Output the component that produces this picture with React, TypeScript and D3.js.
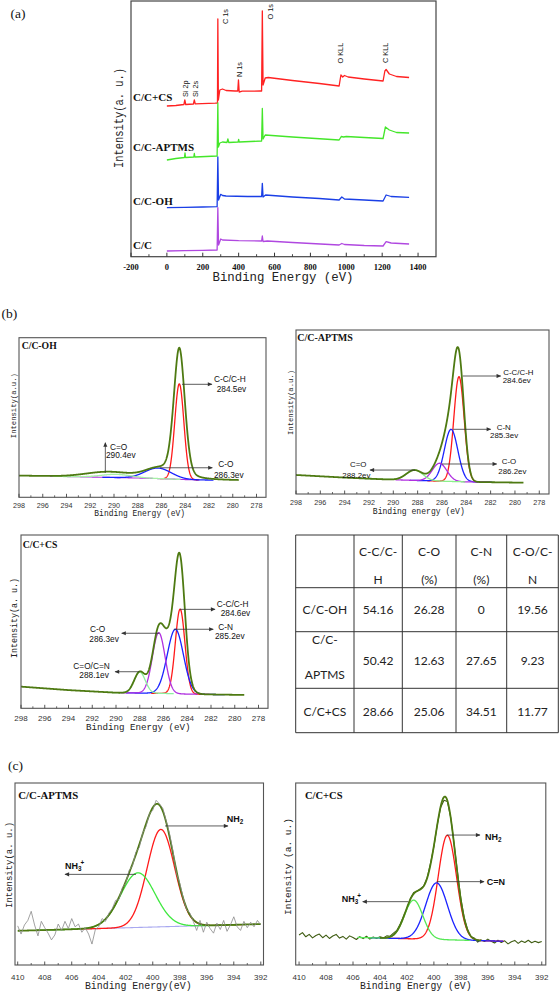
import React from "react";
import * as d3 from "d3";

type Pt = [number, number];
interface FitPeak { name: string; center: number; height: number; fwhm: number; lorentz?: number; }

// ================= (a) survey spectra : [binding energy eV, intensity a.u.] =================
const surveyTicks = [-200, 0, 200, 400, 600, 800, 1000, 1200, 1400];
const surveySamples = ["C/C+CS", "C/C-APTMS", "C/C-OH", "C/C"];
const surveyPeakNames = ["Si 2p", "Si 2s", "C 1s", "N 1s", "O 1s", "O KLL", "C KLL"];
const surveyCS: Pt[] = [
  [0, 150.7], [50, 151.2], [95, 152.2], [100, 156.7], [105, 152.2], [148, 152.7], [153, 156.7], [158, 152.9],
  [270, 153.5], [282, 153.7], [284, 237.7], [287, 156.7], [295, 166.7], [310, 167.7], [330, 166.2], [380, 165.7],
  [395, 165.7], [399, 176.7], [403, 164.7], [420, 165.5], [520, 165.7], [528, 165.7], [532, 245.7], [536, 171.7],
  [548, 178.7], [565, 179.2], [700, 176.2], [850, 173.2], [960, 170.7], [970, 181.7], [980, 179.7], [990, 181.2],
  [1010, 179.7], [1100, 177.7], [1205, 175.7], [1215, 185.7], [1222, 187.2], [1240, 182.7], [1280, 180.2], [1350, 179.2],
];
const surveyAPTMS: Pt[] = [
  [0, 96.7], [50, 98.2], [98, 99.2], [101, 103.7], [104, 99.2], [150, 99.7], [153, 103.2], [156, 99.7], [280, 100.7],
  [284, 153.7], [287, 109.7], [295, 113.7], [310, 114.7], [335, 114.2], [340, 117.7], [345, 114.2], [397, 114.7],
  [400, 117.2], [403, 114.7], [528, 115.7], [532, 148.2], [536, 117.7], [548, 121.7], [700, 119.7], [960, 116.7],
  [972, 120.2], [985, 119.7], [1000, 120.2], [1100, 119.2], [1205, 118.2], [1218, 129.7], [1240, 126.7], [1280, 124.2],
  [1350, 123.7],
];
const surveyOH: Pt[] = [
  [0, 49], [100, 49.4], [200, 49.7], [280, 50], [284, 99.7], [288, 56.7], [300, 62.4], [310, 61.2], [330, 60.7],
  [450, 60.2], [528, 60.2], [532, 73.4], [536, 59.7], [550, 61.7], [700, 59.7], [850, 58.2], [960, 56.7], [975, 59.7],
  [990, 57.7], [1100, 56.7], [1205, 55.7], [1222, 61.7], [1250, 60.2], [1350, 59.4],
];
const surveyCC: Pt[] = [
  [0, 5.7], [100, 6], [200, 6.4], [280, 6.7], [284, 49], [288, 11.7], [300, 17.7], [310, 16.7], [400, 16], [528, 15.7],
  [532, 20.7], [536, 15.2], [560, 15.7], [700, 14.2], [960, 11.7], [975, 13.2], [990, 12.2], [1100, 11.2], [1205, 10.7],
  [1222, 15], [1250, 13.7], [1350, 12.7],
];

// ================= (b) C 1s fits =================
const c1sTicks = [298, 296, 294, 292, 290, 288, 286, 284, 282, 280, 278];
const ohBackground: Pt[] = [[298, 13.6], [294, 13.0], [290, 12.4], [287, 11.9], [285, 11.4], [284, 11.1], [283, 10.9], [279.5, 10.6]];
const ohFitPeaks: FitPeak[] = [
  { name: "C-C/C-H", center: 284.5, height: 59.8, fwhm: 0.9 },
  { name: "C-O", center: 286.3, height: 6.6, fwhm: 2.6 },
  { name: "C=O", center: 289.8, height: 2.0, fwhm: 3.0 },
];
const ohEnvelopePeaks: FitPeak[] = [
  { name: "main", center: 284.5, height: 81, fwhm: 1.1, lorentz: 0.25 },
  { name: "C-O", center: 286.3, height: 5.4, fwhm: 2.6 },
  { name: "C=O", center: 290.4, height: 3.4, fwhm: 4.5 },
];
const aptmsBackground: Pt[] = [[298, 11.6], [294, 10.0], [290, 8.7], [287, 8.0], [284, 7.4], [279.3, 6.9]];
const aptmsFitPeaks: FitPeak[] = [
  { name: "C-C/C-H", center: 284.6, height: 64, fwhm: 1.0 },
  { name: "C-N", center: 285.25, height: 31.8, fwhm: 1.3 },
  { name: "C-O", center: 286.2, height: 10.9, fwhm: 1.4 },
  { name: "C=O", center: 288.25, height: 6.3, fwhm: 1.6 },
];
const csBackground: Pt[] = [[298, 12.5], [294, 10.5], [290, 9.0], [286, 8.6], [284, 8.2], [279.2, 7.7]];
const csFitPeaks: FitPeak[] = [
  { name: "C-C/C-H", center: 284.6, height: 48.9, fwhm: 0.95 },
  { name: "C-N", center: 285.0, height: 37.2, fwhm: 1.6 },
  { name: "C-O", center: 286.4, height: 35.0, fwhm: 1.25 },
  { name: "C=O/C=N", center: 288.0, height: 12.1, fwhm: 1.1 },
];

// table
const tableHeader = [["C-C/C-", "H"], ["C-O", "(%)"], ["C-N", "(%)"], ["C-O/C-", "N"]];
const tableSamples = [["C/C-OH"], ["C/C-", "APTMS"], ["C/C+CS"]];
const tableCC = [54.16, 50.42, 28.66];
const tableCO = [26.28, 12.63, 25.06];
const tableCN = [0, 27.65, 34.51];
const tableCON = [19.56, 9.23, 11.77];

// ================= (c) N 1s fits =================
const n1sTicks = [410, 408, 406, 404, 402, 400, 398, 396, 394, 392];
const n1sAptmsBackground: Pt[] = [[410, 18.8], [392, 22.5]];
const n1sAptmsPeaks: FitPeak[] = [
  { name: "NH2", center: 399.4, height: 53.5, fwhm: 2.4 },
  { name: "NH3+", center: 401.1, height: 30, fwhm: 3.0 },
];
const n1sAptmsRaw: Pt[] = [
  [410, 21.5], [409.75, 17.0], [409.5, 22.0], [409.25, 24.5], [409, 29.5], [408.75, 22.0], [408.5, 16.0], [408.25, 24.0],
  [408, 20.5], [407.75, 17.5], [407.5, 13.8], [407.25, 16.5], [407, 22.5], [406.75, 19.0], [406.5, 24.0], [406.25, 20.0],
  [406, 25.5], [405.75, 21.0], [405.5, 22.5], [405.25, 18.0], [405, 20.5], [404.75, 17.0], [404.5, 11.5], [404.25, 19.5],
  [404, 21.0], [403.75, 25.5], [403.5, 24.0], [403.25, 28.5], [403, 31.0], [402.75, 35.5], [402.5, 36.0], [402.25, 42.5],
  [402, 45.0], [401.75, 52.0], [401.5, 54.5], [401.25, 62.0], [401, 64.5], [400.75, 72.5], [400.5, 76.0], [400.25, 83.0],
  [400, 85.0], [399.75, 90.5], [399.5, 88.5], [399.25, 86.0], [399, 79.0], [398.75, 72.0], [398.5, 62.5], [398.25, 50.5],
  [398, 45.0], [397.75, 37.0], [397.5, 30.5], [397.25, 28.5], [397, 24.0], [396.75, 19.0], [396.5, 24.5], [396.25, 18.0],
  [396, 23.5], [395.75, 20.0], [395.5, 17.5], [395.25, 23.0], [395, 19.5], [394.75, 24.5], [394.5, 18.5], [394.25, 22.0],
  [394, 26.5], [393.75, 21.0], [393.5, 19.0], [393.25, 24.0], [393, 20.5], [392.75, 23.5], [392.5, 21.0], [392.25, 24.5],
  [392, 22.0],
];
const n1sCsBackground: Pt[] = [[410, 16], [392, 12.5]];
const n1sCsPeaks: FitPeak[] = [
  { name: "NH2", center: 399.0, height: 57.4, fwhm: 1.6 },
  { name: "C=N", center: 399.8, height: 31.1, fwhm: 1.9 },
  { name: "NH3+", center: 401.5, height: 21.3, fwhm: 1.6 },
];
const n1sCsRaw: Pt[] = [
  [410, 16.5], [409.75, 17.8], [409.5, 15.5], [409.25, 16.8], [409, 14.9], [408.75, 16.2], [408.5, 17.0], [408.25, 15.0],
  [408, 16.4], [407.75, 14.6], [407.5, 15.9], [407.25, 16.8], [407, 14.8], [406.75, 15.7], [406.5, 14.2], [406.25, 16.0],
  [406, 15.1], [405.75, 14.0], [405.5, 15.6], [405.25, 14.5], [405, 15.8], [404.75, 14.2], [404.5, 15.4], [404.25, 14.6],
  [404, 15.5], [403.75, 14.9], [403.5, 16.0], [403.25, 15.8], [403, 17.5], [402.75, 19.0], [402.5, 22.5], [402.25, 26.8],
  [402, 31.0], [401.75, 36.5], [401.5, 39.8], [401.25, 40.5], [401, 42.0], [400.75, 43.5], [400.5, 48.0], [400.25, 56.0],
  [400, 65.0], [399.75, 77.0], [399.5, 86.5], [399.25, 90.5], [399, 89.8], [398.75, 81.0], [398.5, 66.5], [398.25, 51.0],
  [398, 36.5], [397.75, 26.0], [397.5, 19.5], [397.25, 15.5], [397, 14.8], [396.75, 12.6], [396.5, 13.8], [396.25, 12.9],
  [396, 14.2], [395.75, 13.0], [395.5, 12.1], [395.25, 13.6], [395, 12.4], [394.75, 13.3], [394.5, 11.6], [394.25, 12.8],
  [394, 13.5], [393.75, 11.9], [393.5, 13.2], [393.25, 12.4], [393, 13.6], [392.75, 12.2], [392.5, 13.0], [392.25, 12.3],
  [392, 12.9],
];

// ================= styles / layout =================
const OLIVE = "#4e7a12";
const RED = "#ff1a1a";
const BLUE = "#1a22ff";
const PURPLE = "#b030e0";
const GREEN = "#55e855";
const MONO = "Liberation Mono, Courier New, monospace";
const SERIF = "Liberation Serif, Times New Roman, serif";
const SANS = "Liberation Sans, Arial, sans-serif";

function profile(e: number, p: FitPeak) {
  const t = (e - p.center) / p.fwhm;
  const eta = p.lorentz ?? 0;
  return p.height * ((1 - eta) * Math.exp(-4 * Math.LN2 * t * t) + eta / (1 + 4 * t * t));
}

interface Part { t: string; k?: "sub" | "sup" }
interface Label { parts: Part[]; x: number; y: number }
interface Arrow { from: Pt; to: Pt }
interface Layout {
  l: number; r: number; t: number; b: number;
  xDomain: [number, number];
  tickLabelY: number; tickSize: number;
  title: string; titleX: number; titleY: number; titleSize: number;
  yLabel: string; yLabelX: number; yLabelY: number; yLabelLen: number; yLabelSize: number;
  xLabel: string; xLabelX: number; xLabelY: number; xLabelLen: number; xLabelSize: number;
  span: number;
  envRange: [number, number];
  bgLine?: { from: number; to: number; color: string };
  raw?: { color: string; width: number; onTop: boolean };
  labelSize: number; labelBold: boolean;
}

const lab = (t: string, x: number, y: number): Label => ({ parts: [{ t }], x, y });
const nh2 = (x: number, y: number): Label => ({ parts: [{ t: "NH" }, { t: "2", k: "sub" }], x, y });
const nh3 = (x: number, y: number): Label => ({ parts: [{ t: "NH" }, { t: "3", k: "sub" }, { t: "+", k: "sup" }], x, y });

function Spectrum(props: {
  L: Layout; ticks: number[]; bg: Pt[]; peaks: FitPeak[]; colors: string[]; env: FitPeak[];
  raw?: Pt[]; arrows: Arrow[]; labels: Label[]; id: string;
}) {
  const { L, ticks, bg, peaks, colors, env, raw, arrows, labels, id } = props;
  const x = d3.scaleLinear().domain(L.xDomain).range([L.l, L.r]);
  const y = d3.scaleLinear().domain([0, 100]).range([L.b, L.t]);
  const bgS = d3.scaleLinear().domain(bg.map((d) => d[0])).range(bg.map((d) => d[1])).clamp(true);
  const line = d3.line<Pt>().x((d) => x(d[0])).y((d) => y(d[1]));
  const lo = Math.min(...L.xDomain), hi = Math.max(...L.xDomain);
  const minor: number[] = [];
  for (let i = 0; i < ticks.length - 1; i++) minor.push((ticks[i] + ticks[i + 1]) / 2);
  const compPaths = peaks.map((p) => {
    const a = Math.max(lo, p.center - L.span * p.fwhm), b = Math.min(hi, p.center + L.span * p.fwhm);
    const pts: Pt[] = d3.range(a, b, 0.02).map((e) => [e, bgS(e) + profile(e, p)] as Pt);
    return line(pts) || "";
  });
  const e0 = Math.min(...L.envRange), e1 = Math.max(...L.envRange);
  const envPts: Pt[] = d3.range(e0, e1 + 0.001, 0.02).map((e) => [e, bgS(e) + d3.sum(env, (p) => profile(e, p))] as Pt);
  const rawPath = raw ? line(raw) || "" : "";
  const rawEl = raw && L.raw ? (
    <path d={rawPath} fill="none" stroke={L.raw.color} strokeWidth={L.raw.width} strokeLinejoin="round" />
  ) : null;
  return (
    <g>
      <defs>
        <clipPath id={id}>
          <rect x={L.l} y={L.t} width={L.r - L.l} height={L.b - L.t} />
        </clipPath>
      </defs>
      <g clipPath={`url(#${id})`}>
        {L.bgLine && (
          <path
            d={line(d3.range(Math.min(L.bgLine.from, L.bgLine.to), Math.max(L.bgLine.from, L.bgLine.to), 0.1).map((e) => [e, bgS(e)] as Pt)) || ""}
            fill="none" stroke={L.bgLine.color} strokeWidth={1.1}
          />
        )}
        {L.raw && !L.raw.onTop && rawEl}
        {compPaths.map((d, i) => (
          <path key={i} d={d} fill="none" stroke={colors[i]} strokeWidth={1.3} />
        ))}
        <path d={line(envPts) || ""} fill="none" stroke={OLIVE} strokeWidth={1.8} />
        {L.raw && L.raw.onTop && rawEl}
      </g>
      <rect x={L.l} y={L.t} width={L.r - L.l} height={L.b - L.t} fill="none" stroke="#555" strokeWidth={1.1} />
      {ticks.map((t) => (
        <g key={"t" + t}>
          <line x1={x(t)} x2={x(t)} y1={L.b} y2={L.b - 3.5} stroke="#444" strokeWidth={0.9} />
          <text x={x(t)} y={L.tickLabelY} fontSize={L.tickSize} textAnchor="middle" fill="#333" fontFamily={SANS}>{t}</text>
        </g>
      ))}
      {minor.map((t) => (
        <line key={"m" + t} x1={x(t)} x2={x(t)} y1={L.b} y2={L.b - 2} stroke="#444" strokeWidth={0.8} />
      ))}
      <text x={L.titleX} y={L.titleY} fontFamily={SERIF} fontWeight="bold" fontSize={L.titleSize} fill="#111">{L.title}</text>
      <text
        x={L.yLabelX} y={L.yLabelY} transform={`rotate(-90 ${L.yLabelX} ${L.yLabelY})`} textAnchor="middle"
        fontFamily={MONO} fontSize={L.yLabelSize} fill="#222" textLength={L.yLabelLen} lengthAdjust="spacingAndGlyphs"
      >{L.yLabel}</text>
      <text
        x={L.xLabelX} y={L.xLabelY} textAnchor="middle" fontFamily={MONO} fontSize={L.xLabelSize} fill="#222"
        textLength={L.xLabelLen} lengthAdjust="spacingAndGlyphs"
      >{L.xLabel}</text>
      {arrows.map((a, i) => (
        <line key={"a" + i} x1={x(a.from[0])} y1={y(a.from[1])} x2={x(a.to[0])} y2={y(a.to[1])}
          stroke="#333" strokeWidth={0.8} markerEnd="url(#arrowHead)" />
      ))}
      {labels.map((lb, i) => (
        <text key={"l" + i} x={lb.x} y={lb.y} fontFamily={SANS} fontSize={L.labelSize} fill="#111"
          fontWeight={L.labelBold ? "bold" : "normal"}>
          {lb.parts.map((p, j) => {
            if (p.k === "sub") return <tspan key={j} dy={2.5} fontSize={L.labelSize * 0.7}>{p.t}</tspan>;
            if (p.k === "sup") return <tspan key={j} dy={-6} dx={-1} fontSize={L.labelSize * 0.7}>{p.t}</tspan>;
            return <tspan key={j}>{p.t}</tspan>;
          })}
        </text>
      ))}
    </g>
  );
}

const surveyFrame = { l: 131, r: 436, t: 1, b: 256.7 };
const surveyDomain: [number, number] = [-200, 1500];
const surveyColors = ["#ff2222", "#44e62a", "#1a3fe6", "#b048e0"];
const surveySampleLabelY = [101, 150.5, 205, 248.5];
const surveyPeakLabelPos: Pt[] = [[187.5, 97], [197.5, 97], [228.2, 24], [241.8, 77], [272.5, 19.5], [342.5, 63.5], [387.5, 63]];

function Survey() {
  const f = surveyFrame;
  const x = d3.scaleLinear().domain(surveyDomain).range([f.l, f.r]);
  const y = d3.scaleLinear().domain([0, 255.7]).range([f.b, f.t]);
  const line = d3.line<Pt>().x((d) => x(d[0])).y((d) => y(d[1]));
  const series = [surveyCS, surveyAPTMS, surveyOH, surveyCC];
  const minor: number[] = [];
  for (let i = 0; i < surveyTicks.length - 1; i++) minor.push((surveyTicks[i] + surveyTicks[i + 1]) / 2);
  return (
    <g>
      {series.map((s, i) => (
        <path key={i} d={line(s) || ""} fill="none" stroke={surveyColors[i]} strokeWidth={1.3} strokeLinejoin="round" />
      ))}
      <rect x={f.l} y={f.t} width={f.r - f.l} height={f.b - f.t} fill="none" stroke="#444" strokeWidth={1.2} />
      {surveyTicks.map((t) => (
        <g key={t}>
          <line x1={x(t)} x2={x(t)} y1={f.b} y2={f.b - 4} stroke="#333" strokeWidth={1} />
          <text x={x(t)} y={269.5} textAnchor="middle" fontFamily={SERIF} fontWeight="bold" fontSize={8.5} fill="#111">{t}</text>
        </g>
      ))}
      {minor.map((t) => (
        <line key={"m" + t} x1={x(t)} x2={x(t)} y1={f.b} y2={f.b - 2.5} stroke="#333" strokeWidth={0.9} />
      ))}
      {surveySamples.map((s, i) => (
        <text key={s} x={133} y={surveySampleLabelY[i]} fontFamily={SERIF} fontWeight="bold" fontSize={11} fill="#111">{s}</text>
      ))}
      {surveyPeakNames.map((n, i) => (
        <text key={n} x={surveyPeakLabelPos[i][0]} y={surveyPeakLabelPos[i][1]}
          transform={`rotate(-90 ${surveyPeakLabelPos[i][0]} ${surveyPeakLabelPos[i][1]})`}
          fontFamily={SANS} fontSize={7.3} fill="#111">{n}</text>
      ))}
      <text x={122.5} y={118} transform="rotate(-90 122.5 118)" textAnchor="middle" fontFamily={MONO} fontSize={12}
        fill="#222" textLength={100} lengthAdjust="spacingAndGlyphs">Intensity(a. u.)</text>
      <text x={283} y={281} textAnchor="middle" fontFamily={MONO} fontSize={12.5} fill="#222" textLength={141}
        lengthAdjust="spacingAndGlyphs">Binding Energy (eV)</text>
    </g>
  );
}

const layoutOH: Layout = {
  l: 19, r: 266, t: 337.7, b: 497.3, xDomain: [298, 277.2], tickLabelY: 507.5, tickSize: 7.2,
  title: "C/C-OH", titleX: 21.7, titleY: 348.5, titleSize: 9.7,
  yLabel: "Intensity(a.u.)", yLabelX: 16, yLabelY: 405.7, yLabelLen: 65, yLabelSize: 8,
  xLabel: "Binding Energy (eV)", xLabelX: 139.7, xLabelY: 515.5, xLabelLen: 90.7, xLabelSize: 8.5,
  span: 1.8, envRange: [298, 279.5], bgLine: { from: 295.5, to: 282.8, color: PURPLE },
  labelSize: 8.3, labelBold: false,
};
const layoutAPTMS: Layout = {
  l: 296, r: 549, t: 330, b: 494, xDomain: [298, 277.2], tickLabelY: 505.3, tickSize: 7.2,
  title: "C/C-APTMS", titleX: 297.3, titleY: 341, titleSize: 10,
  yLabel: "Intensity(a.u.)", yLabelX: 292.7, yLabelY: 402.5, yLabelLen: 65, yLabelSize: 8,
  xLabel: "Binding energy (eV)", xLabelX: 418.8, xLabelY: 513.5, xLabelLen: 92, xLabelSize: 8.5,
  span: 2.6, envRange: [298, 279.3], labelSize: 7.9, labelBold: false,
};
const layoutCS: Layout = {
  l: 21, r: 268, t: 535, b: 708.3, xDomain: [298, 277.2], tickLabelY: 721, tickSize: 8,
  title: "C/C+CS", titleX: 22.7, titleY: 547.5, titleSize: 9.7,
  yLabel: "Intensity(a. u.)", yLabelX: 16.5, yLabelY: 618, yLabelLen: 80, yLabelSize: 9,
  xLabel: "Binding Energy (eV)", xLabelX: 138.3, xLabelY: 730, xLabelLen: 104.7, xLabelSize: 9.5,
  span: 2.6, envRange: [298, 279.2], labelSize: 8.3, labelBold: false,
};
const layoutN1sAPTMS: Layout = {
  l: 15, r: 263.5, t: 783, b: 965, xDomain: [410.2, 391.8], tickLabelY: 979.5, tickSize: 8,
  title: "C/C-APTMS", titleX: 18.3, titleY: 798.5, titleSize: 10.8,
  yLabel: "Intensity(a. u.)", yLabelX: 11.8, yLabelY: 865, yLabelLen: 86, yLabelSize: 9.5,
  xLabel: "Binding Energy(eV)", xLabelX: 138.3, xLabelY: 989, xLabelLen: 106.7, xLabelSize: 10,
  span: 2.5, envRange: [410, 392], bgLine: { from: 405, to: 395, color: "#a8a8f0" },
  raw: { color: "#8a8a8a", width: 0.8, onTop: true }, labelSize: 9, labelBold: true,
};
const layoutN1sCS: Layout = {
  l: 295.7, r: 545.8, t: 783, b: 965, xDomain: [410.25, 391.7], tickLabelY: 979.5, tickSize: 8,
  title: "C/C+CS", titleX: 305, titleY: 798.5, titleSize: 10.5,
  yLabel: "Intensity (a. u.)", yLabelX: 290.7, yLabelY: 866.5, yLabelLen: 97, yLabelSize: 9.5,
  xLabel: "Binding Energy (eV)", xLabelX: 415.8, xLabelY: 989, xLabelLen: 111.7, xLabelSize: 10,
  span: 2.6, envRange: [404, 396.5], raw: { color: "#3f5c12", width: 1.1, onTop: false },
  labelSize: 9, labelBold: true,
};

const tableRowLines = [535, 587.7, 631.7, 688.3, 732.7];
const tableColLines = [295.7, 354, 402.3, 456, 506.7, 558.3];
const headerLineY = [556, 583.5];
const rowTextY = [614.3, 665, 716];
const twoLineY = [643.5, 679.3];

function Table() {
  const cols = [tableCC, tableCO, tableCN, tableCON];
  const cx = (i: number) => (tableColLines[i] + tableColLines[i + 1]) / 2;
  const fmt = (v: number) => (v === 0 ? "0" : v.toFixed(2));
  return (
    <g fontFamily="Lato, Liberation Sans, sans-serif" fontSize={12} fill="#222">
      {tableRowLines.map((yy, i) => (
        <line key={"r" + i} x1={tableColLines[0]} x2={tableColLines[5]} y1={yy} y2={yy} stroke="#333" strokeWidth={1} />
      ))}
      {tableColLines.map((xx, i) => (
        <line key={"c" + i} x1={xx} x2={xx} y1={tableRowLines[0]} y2={tableRowLines[4]} stroke="#333" strokeWidth={1} />
      ))}
      {tableHeader.map((h, i) => h.map((t, j) => (
        <text key={`h${i}${j}`} x={cx(i + 1)} y={headerLineY[j]} textAnchor="middle">{t}</text>
      )))}
      {tableSamples.map((s, r) => s.map((t, j) => (
        <text key={`s${r}${j}`} x={cx(0)} y={s.length > 1 ? twoLineY[j] : rowTextY[r]} textAnchor="middle">{t}</text>
      )))}
      {cols.map((c, i) => c.map((v, r) => (
        <text key={`v${i}${r}`} x={cx(i + 1)} y={rowTextY[r]} textAnchor="middle">{fmt(v)}</text>
      )))}
    </g>
  );
}

export default function App() {
  return (
    <svg width={559} height={992} viewBox="0 0 559 992"
      style={{ position: "absolute", left: 0, top: 0, background: "#fff" }}>
      <defs>
        <marker id="arrowHead" viewBox="0 0 10 10" refX="9" refY="5" markerWidth="6" markerHeight="4.6"
          markerUnits="userSpaceOnUse" orient="auto">
          <path d="M0,0.5 L10,5 L0,9.5 z" fill="#333" />
        </marker>
      </defs>
      <rect x={0} y={0} width={559} height={992} fill="#fff" />
      <text x={10.5} y={18} fontFamily={SERIF} fontSize={13.5} fill="#111">(a)</text>
      <Survey />
      <text x={1.5} y={317.5} fontFamily={SERIF} fontSize={13.5} fill="#111">(b)</text>
      <Spectrum id="cpOH" L={layoutOH} ticks={c1sTicks} bg={ohBackground} peaks={ohFitPeaks}
        colors={[RED, BLUE, "#a6f0a6"]} env={ohEnvelopePeaks}
        arrows={[
          { from: [284.27, 70.8], to: [281.75, 70.8] },
          { from: [290.73, 15.4], to: [290.73, 34.2] },
          { from: [286.13, 18.5], to: [281.72, 18.5] },
        ]}
        labels={[lab("C-C/C-H", 214, 382.3), lab("284.5ev", 216.7, 392.3), lab("C=O", 110, 449.7),
          lab("290.4ev", 106, 458), lab("C-O", 218.3, 467), lab("286.3ev", 214, 478)]}
      />
      <Spectrum id="cpAPTMS" L={layoutAPTMS} ticks={c1sTicks} bg={aptmsBackground} peaks={aptmsFitPeaks}
        colors={[RED, BLUE, PURPLE, "#8cf08c"]} env={aptmsFitPeaks}
        arrows={[
          { from: [284.29, 71.95], to: [281.17, 71.95] },
          { from: [285.07, 39.45], to: [281.99, 39.45] },
          { from: [286.02, 18.3], to: [281.5, 18.3] },
          { from: [288.22, 14.6], to: [291.92, 14.6] },
        ]}
        labels={[lab("C-C/C-H", 503.3, 374.7), lab("284.6ev", 502.7, 383), lab("C-N", 496.7, 429.7),
          lab("285.3ev", 490, 438), lab("C-O", 501.7, 464.3), lab("286.2ev", 498.3, 474.3), lab("C=O", 350, 466.5),
          lab("288.2ev", 342.3, 478)]}
      />
      <Spectrum id="cpCS" L={layoutCS} ticks={c1sTicks} bg={csBackground} peaks={csFitPeaks}
        colors={[RED, BLUE, PURPLE, "#8cf0a0"]} env={csFitPeaks}
        arrows={[
          { from: [284.61, 57.1], to: [281.66, 57.1] },
          { from: [285.12, 45.6], to: [281.81, 45.6] },
          { from: [286.35, 43.3], to: [289.52, 43.3] },
          { from: [288.04, 21.1], to: [290.08, 21.1] },
        ]}
        labels={[lab("C-C/C-H", 216.7, 607), lab("284.6ev", 220.7, 616.3), lab("C-N", 218.3, 630.3),
          lab("285.2ev", 215, 639), lab("C-O", 90, 632.3), lab("286.3ev", 89.3, 642), lab("C=O/C=N", 73.3, 668.7),
          lab("288.1ev", 79.3, 678)]}
      />
      <Table />
      <text x={8} y={769.5} fontFamily={SERIF} fontSize={13.5} fill="#111">(c)</text>
      <Spectrum id="cpN1" L={layoutN1sAPTMS} ticks={n1sTicks} bg={n1sAptmsBackground} peaks={n1sAptmsPeaks}
        colors={[RED, "#3ee83e"]} env={n1sAptmsPeaks} raw={n1sAptmsRaw}
        arrows={[
          { from: [399.09, 76.4], to: [394.43, 76.4] },
          { from: [401.24, 49.8], to: [406.5, 49.8] },
        ]}
        labels={[nh2(226.7, 821.5), nh3(65, 868.5)]}
      />
      <Spectrum id="cpN2" L={layoutN1sCS} ticks={n1sTicks} bg={n1sCsBackground} peaks={n1sCsPeaks}
        colors={[RED, BLUE, GREEN]} env={n1sCsPeaks} raw={n1sCsRaw}
        arrows={[
          { from: [399.05, 71.4], to: [396.58, 71.4] },
          { from: [399.79, 45.8], to: [396.28, 45.8] },
          { from: [401.9, 34.8], to: [405.28, 34.8] },
        ]}
        labels={[nh2(485, 839.5), lab("C=N", 486.7, 884.5), nh3(341.7, 901.5)]}
      />
    </svg>
  );
}
